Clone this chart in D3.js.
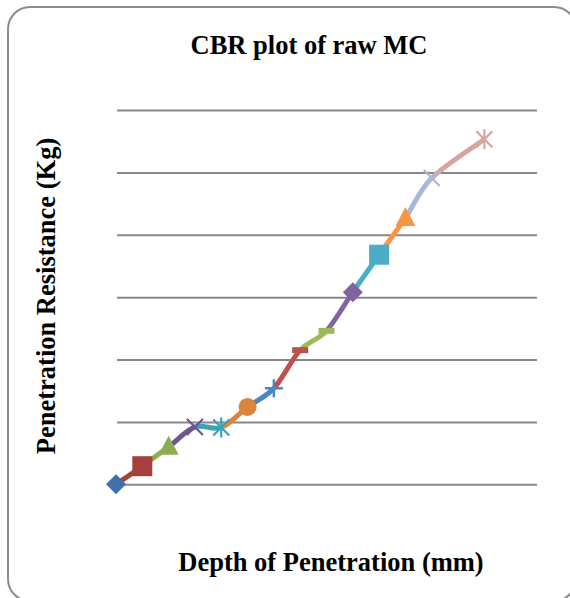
<!DOCTYPE html>
<html>
<head>
<meta charset="utf-8">
<script src="https://cdn.jsdelivr.net/npm/d3@7"></script>
<style>
  html, body { margin: 0; padding: 0; background: #fff; }
  svg { display: block; }
  text { font-family: "Liberation Serif", "Times New Roman", serif; font-weight: bold; fill: #000; }
</style>
</head>
<body>
<svg id="chart" width="570" height="598"></svg>
<script>
// readings: depth (mm) and resistance (kg)
const depth = [0, 0.5, 1.0, 1.5, 2.0, 2.5, 3.0, 3.5, 4.0, 4.5, 5.0, 5.5, 6.0, 7.0];
const resistance = [0, 2.9, 6.0, 9.2, 9.1, 12.4, 15.4, 21.5, 24.6, 30.8, 36.8, 42.7, 49.1, 55.3];
const seriesColors = ["#4070AD", "#A5403D", "#8AAE4F", "#6F5592", "#3AA3B8", "#DB843D", "#4A86C6",
                      "#C0504D", "#9BBB59", "#8064A2", "#4BACC6", "#F79646", "#A7B9D9", "#D9A3A2"];
const markerTypes = ["diamond", "square", "triangle", "x", "star", "circle", "plus",
                     "dash", "dash", "diamond", "square", "triangle", "x", "star"];
const yTicks = [0, 10, 20, 30, 40, 50, 60];

const svg = d3.select("#chart");

// chart frame
svg.append("rect")
  .attr("x", 8).attr("y", 7)
  .attr("width", 568).attr("height", 594)
  .attr("rx", 22).attr("ry", 22)
  .attr("fill", "#fff")
  .attr("stroke", "#8c8c8c")
  .attr("stroke-width", 2);

const x = d3.scaleLinear().domain([0, 8]).range([116, 537]);
const y = d3.scaleLinear().domain([0, 60]).range([484.3, 110]);

// gridlines
const grid = svg.append("g")
  .attr("transform", `translate(${x(0) + 1},0)`)
  .call(d3.axisLeft(y).tickValues(yTicks).tickSize(-(x(8) - x(0) - 1)).tickFormat(""));
grid.select(".domain").remove();
grid.selectAll(".tick line").attr("stroke", "#878787").attr("stroke-width", 2);

const pts = depth.map((d, i) => [x(d), y(resistance[i])]);

// smoothed segments, one per series (catmull-rom tangents)
const lines = svg.append("g");
for (let i = 1; i < pts.length; i++) {
  const p0 = pts[i - 2] || pts[i - 1];
  const p1 = pts[i - 1];
  const p2 = pts[i];
  const p3 = pts[i + 1] || pts[i];
  const path = d3.path();
  path.moveTo(p1[0], p1[1]);
  path.bezierCurveTo(
    p1[0] + (p2[0] - p0[0]) / 6, p1[1] + (p2[1] - p0[1]) / 6,
    p2[0] - (p3[0] - p1[0]) / 6, p2[1] - (p3[1] - p1[1]) / 6,
    p2[0], p2[1]);
  lines.append("path")
    .attr("d", path.toString())
    .attr("fill", "none")
    .attr("stroke", seriesColors[i])
    .attr("stroke-width", 5)
    .attr("stroke-linecap", "butt");
}

// markers
const markers = svg.append("g");
pts.forEach((p, i) => {
  const c = seriesColors[i];
  const g = markers.append("g").attr("transform", `translate(${p[0]},${p[1]})`);
  switch (markerTypes[i]) {
    case "diamond":
      g.append("path").attr("d", "M0,-10L10,0L0,10L-10,0Z").attr("fill", c);
      break;
    case "square":
      g.append("rect").attr("x", -10).attr("y", -10).attr("width", 20).attr("height", 20).attr("fill", c);
      break;
    case "triangle":
      g.append("path").attr("d", "M0,-11L10,8L-10,8Z").attr("fill", c);
      break;
    case "circle":
      g.append("circle").attr("r", 9).attr("fill", c);
      break;
    case "dash":
      g.append("rect").attr("x", -8).attr("y", -3).attr("width", 16).attr("height", 6).attr("fill", c);
      break;
    case "x":
      g.append("path").attr("d", "M-8,-8L8,8M-8,8L8,-8").attr("stroke", c).attr("stroke-width", 2.2);
      break;
    case "star":
      g.append("path").attr("d", "M-8,-8L8,8M-8,8L8,-8M0,-10L0,10").attr("stroke", c).attr("stroke-width", 2.2);
      break;
    case "plus":
      g.append("path").attr("d", "M-9,0L9,0M0,-9L0,9").attr("stroke", c).attr("stroke-width", 2.5);
      break;
  }
});

// titles
svg.append("text")
  .attr("x", 309).attr("y", 54)
  .attr("text-anchor", "middle")
  .style("font-size", "26.5px")
  .text("CBR plot of raw MC");

svg.append("text")
  .attr("x", 331).attr("y", 571)
  .attr("text-anchor", "middle")
  .style("font-size", "26.5px")
  .text("Depth of Penetration (mm)");

svg.append("text")
  .attr("transform", "translate(55,296) rotate(-90)")
  .attr("text-anchor", "middle")
  .style("font-size", "26.5px")
  .text("Penetration Resistance (Kg)");
</script>
</body>
</html>
